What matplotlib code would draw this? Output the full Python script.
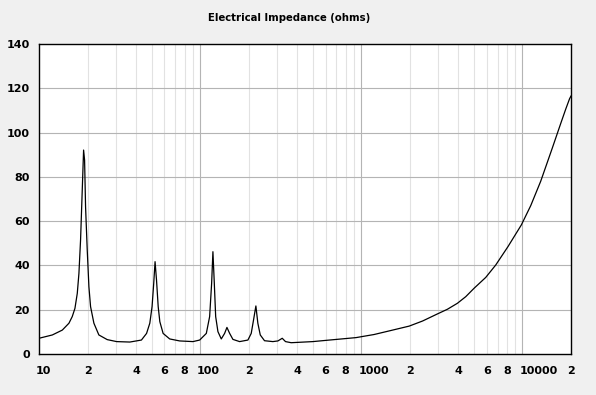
import matplotlib
matplotlib.use('Agg')
import matplotlib.pyplot as plt
import matplotlib.transforms as mtransforms

# impedance curve (Hz, ohms)
freq = [10, 12.1, 13.95, 15.34, 16.08, 16.71, 17.28, 17.69, 18.11, 18.55, 18.91,
        19.18, 19.45, 19.92, 20.4, 20.89, 21.91, 23.52, 26.5, 30.3, 36.6,
        43.2, 46.5, 48.7, 50.3, 51.5, 52.5, 53.6, 54.9, 56.2, 58.9, 64.7, 74.6,
        90.2, 99.3, 109.2, 114.5, 117.8, 120, 122.4, 124.8, 128.9, 135.2, 141.8,
        146.6, 152.4, 159.7, 175.7, 197.8, 207.4, 214.4, 221.7, 228, 236, 250.8,
        282.5, 303.7, 323, 338.5, 367, 500, 634, 927, 1200, 1564, 1982, 2399,
        2966, 3420, 3945, 4447, 5010, 5918, 6825, 8128, 9840, 11250, 12970,
        14250, 15310, 17250, 18530, 19600, 20000]
impedance = [7.1, 8.6, 10.8, 13.9, 16.9, 20.6, 27.4, 36.4, 51.5, 74, 92.1,
             87.6, 66.5, 47, 30.4, 21.4, 13.9, 8.6, 6.5, 5.6, 5.4,
             6.3, 9.3, 13.9, 21.4, 31.9, 41.7, 33.4, 21.4, 14.6, 9.3, 6.8, 5.9,
             5.6, 6.3, 9.3, 16.9, 31.9, 46.2, 31.9, 16.9, 10.1, 6.8, 9.3,
             12.0, 9.3, 6.6, 5.6, 6.3, 9.3, 15.4, 21.7, 13.9, 8.6, 6.0,
             5.6, 5.9, 7.1, 5.6, 5.1, 5.6, 6.3, 7.4, 8.8, 10.8, 12.6, 14.9,
             18.1, 20.2, 22.9, 25.9, 29.7, 34.6, 40.2, 48.5, 58.3, 67, 78,
             86.5, 93, 104, 110.5, 115.3, 116.5]

tick_pos = [10, 20, 40, 60, 80, 100, 200, 400, 600, 800, 1000,
            2000, 4000, 6000, 8000, 10000, 20000]
tick_lab = ['10', '2', '4', '6', '8', '100', '2', '4', '6', '8', '1000',
            '2', '4', '6', '8', '10000', '2']
y_ticks = [0, 20, 40, 60, 80, 100, 120, 140]

bg = '#f0f0f0'
fig = plt.figure(figsize=(5.96, 3.95), dpi=100, facecolor=bg)
ax = fig.add_axes([39 / 596, 1 - 354 / 395, 532 / 596, 310 / 395])
ax.set_facecolor('white')

ax.plot(freq, impedance, color='black', lw=0.9)

ax.set_xscale('log')
ax.set_xlim(10, 20000)
ax.set_ylim(0, 140)

# grid: decades and y majors darker, minor verticals light
minor = [m * d for d in (10, 100, 1000, 10000) for m in range(2, 10) if m * d < 20000]
for f in minor:
    ax.axvline(f, color='#e2e2e2', lw=0.8, zorder=0)
for f in (100, 1000, 10000):
    ax.axvline(f, color='#b4b4b4', lw=0.8, zorder=0)
for v in y_ticks[1:-1]:
    ax.axhline(v, color='#b4b4b4', lw=0.8, zorder=0)

ax.set_xticks(tick_pos)
ax.set_xticklabels(tick_lab)
ax.xaxis.set_minor_locator(matplotlib.ticker.NullLocator())
ax.set_yticks(y_ticks)
ax.tick_params(length=0, labelsize=8)
ax.tick_params(axis='x', pad=8.5)
ax.tick_params(axis='y', pad=6.5)
shift = mtransforms.ScaledTranslation(-3 / 100, 0, fig.dpi_scale_trans)
for lab in ax.get_xticklabels():
    lab.set_fontweight('bold')
    if len(lab.get_text()) > 1:
        lab.set_horizontalalignment('left')
        lab.set_transform(lab.get_transform() + shift)
for lab in ax.get_yticklabels():
    lab.set_fontweight('bold')

for s in ax.spines.values():
    s.set_color('black')
    s.set_linewidth(1)

fig.text(289 / 596, 1 - 18 / 395, 'Electrical Impedance (ohms)', ha='center',
         va='center', fontsize=7.3, fontweight='bold')

fig.savefig('out.png', dpi=100, facecolor=bg)
